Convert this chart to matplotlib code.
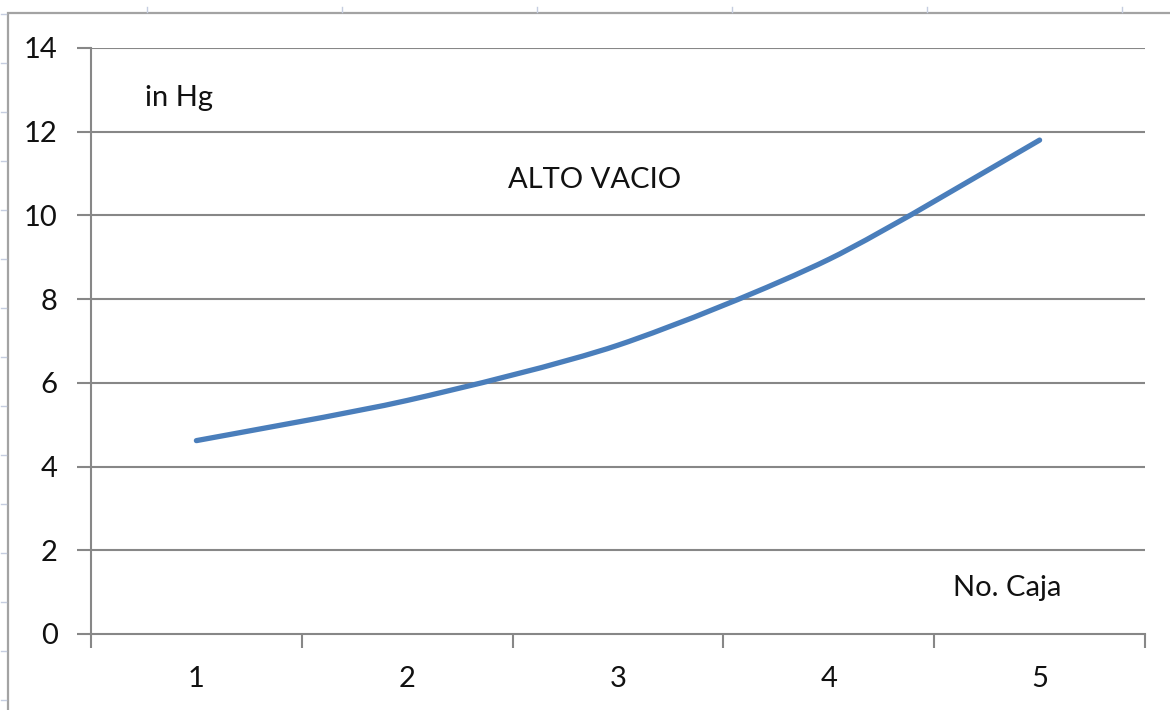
import matplotlib
matplotlib.use("Agg")
import matplotlib.pyplot as plt
import numpy as np
from matplotlib.path import Path
from matplotlib.patches import PathPatch, Rectangle
from matplotlib.lines import Line2D

plt.rcParams["font.family"] = ["Lato", "DejaVu Sans"]

# vacuum reading per box
cajas = [1, 2, 3, 4, 5]
vacio = [4.62, 5.58, 6.90, 8.95, 11.80]
y_ticks = [0, 2, 4, 6, 8, 10, 12, 14]

GRID = "#878787"
LINE = "#4a7ebb"
TXT = "#111111"
FS = 21


def smooth_path(xs, ys, k=1 / 6.0):
    """Excel-style smoothed line: cubic Bezier segments through every point."""
    p = np.column_stack([xs, ys]).astype(float)
    n = len(p)
    verts = [p[0]]
    codes = [Path.MOVETO]
    for i in range(n - 1):
        prev = p[i - 1] if i > 0 else p[i]
        nxt = p[i + 2] if i + 2 < n else p[i + 1]
        c1 = p[i] + (p[i + 1] - prev) * k
        c2 = p[i + 1] - (nxt - p[i]) * k
        verts += [c1, c2, p[i + 1]]
        codes += [Path.CURVE4] * 3
    return Path(verts, codes)


fig = plt.figure(figsize=(11.7, 7.1), dpi=100)
ax = fig.add_axes([91 / 1170, 1 - 634 / 710, (1145 - 91) / 1170, (634 - 48) / 710])

ax.set_xlim(0.5, len(cajas) + 0.5)
ax.set_ylim(0, 14)

# horizontal gridlines
for v in y_ticks[1:]:
    ax.axhline(v, color=GRID, lw=1.5, zorder=1)

ax.add_patch(PathPatch(smooth_path(cajas, vacio, k=0.13), fill=False, edgecolor=LINE,
                       lw=3.8, capstyle="round", joinstyle="round", zorder=3))

for s in ("top", "right"):
    ax.spines[s].set_visible(False)
for s in ("left", "bottom"):
    ax.spines[s].set_color(GRID)
    ax.spines[s].set_linewidth(1.5)

ax.set_yticks(y_ticks)
ax.set_yticklabels([str(v) for v in y_ticks])
ax.set_xticks(np.arange(0.5, len(cajas) + 1, 1.0))
ax.set_xticklabels([])
ax.set_xticks(cajas, minor=True)
ax.set_xticklabels([str(c) for c in cajas], minor=True)
ax.tick_params(axis="y", length=10, width=1.5, color=GRID, pad=14, labelsize=FS,
               labelcolor=TXT)
ax.tick_params(axis="x", which="major", length=10, width=1.5, color=GRID, direction="out")
ax.tick_params(axis="x", which="minor", length=0, pad=23, labelsize=FS, labelcolor=TXT)

ax.text(0.755, 12.8, "in Hg", fontsize=FS, va="center", ha="left", color=TXT)
ax.text(2.89, 10.85, "ALTO VACIO", fontsize=FS, va="center", ha="center", color=TXT)
ax.text(4.59, 1.1, "No. Caja", fontsize=FS, va="center", ha="left", color=TXT)

# chart frame and the sheet gridlines peeking out around it
fig.patches.append(Rectangle((8 / 1170, -0.05), 1.1, 1 - 13 / 710 + 0.05,
                             transform=fig.transFigure, fill=False,
                             edgecolor="#a3a3a3", lw=1.6))
for px in range(147, 1170, 195):
    fig.lines.append(Line2D([px / 1170] * 2, [1 - 7 / 710, 1 - 12 / 710],
                            transform=fig.transFigure, color="#c5cde0", lw=1))
for py in range(14, 710, 49):
    fig.lines.append(Line2D([1 / 1170, 6 / 1170], [1 - py / 710] * 2,
                            transform=fig.transFigure, color="#c5cde0", lw=1))

fig.savefig("out.png", dpi=100)
